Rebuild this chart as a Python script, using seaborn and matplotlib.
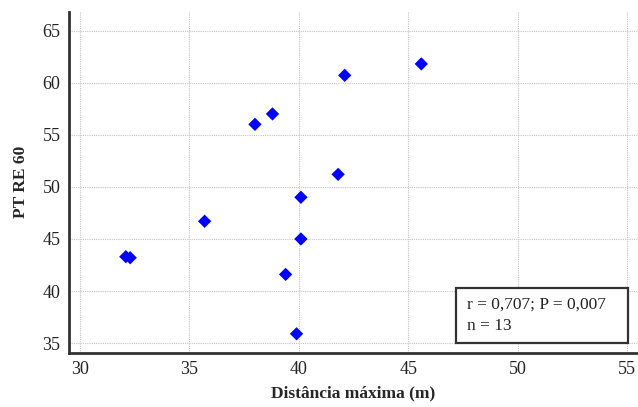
import seaborn as sns
import matplotlib.pyplot as plt
import matplotlib.patches as mpatches
import pandas as pd

# values
dist_max = [32.1, 32.3, 35.7, 38.0, 38.8, 39.4, 39.9, 40.1, 40.1, 41.8, 42.1, 45.6]
pt_re60 = [43.3, 43.2, 46.7, 56.0, 57.0, 41.6, 35.9, 49.0, 45.0, 51.2, 60.7, 61.8]
stats_text = "r = 0,707; P = 0,007\nn = 13"
x_ticks = [30, 35, 40, 45, 50, 55]
y_ticks = [35, 40, 45, 50, 55, 60, 65]

df = pd.DataFrame({"Distância máxima (m)": dist_max, "PT RE 60": pt_re60})

sns.set_style("white")
plt.rcParams["font.family"] = ["Liberation Serif", "DejaVu Serif"]

fig = plt.figure(figsize=(6.38, 4.07), dpi=100)
ax = fig.add_axes([0.108, 0.133, 0.892, 0.838])

sns.scatterplot(data=df, x="Distância máxima (m)", y="PT RE 60", marker="D",
                color="#0000ff", s=46, edgecolor="none", ax=ax, zorder=3)

ax.set_xlim(29.5, 55.5)
ax.set_ylim(34.07, 66.8)
ax.set_xticks(x_ticks)
ax.set_yticks(y_ticks)
ax.grid(True, linestyle=(0, (1, 1)), color="#c4c4c4", linewidth=0.8)
ax.set_axisbelow(True)

for side in ["top", "right"]:
    ax.spines[side].set_visible(False)
for side in ["left", "bottom"]:
    ax.spines[side].set_color("#333333")
    ax.spines[side].set_linewidth(2)

ax.tick_params(direction="in", length=10, width=2, color="#333333",
               labelsize=13, labelcolor="#222222", pad=6)
ax.set_xlabel("Distância máxima (m)", fontsize=12.5, fontweight="bold", labelpad=5)
ax.set_ylabel("PT RE 60", fontsize=12.5, fontweight="bold", labelpad=10)

# statistics box in the lower right corner
box = mpatches.Rectangle((0.681, 0.029), 0.301, 0.161, transform=ax.transAxes,
                         facecolor="white", edgecolor="#333333", linewidth=1.6,
                         zorder=4)
ax.add_patch(box)
ax.text(0.699, 0.11, stats_text, transform=ax.transAxes, fontsize=12.5,
        va="center", ha="left", linespacing=1.45, color="#222222", zorder=5)

plt.savefig("out.png", dpi=100)
